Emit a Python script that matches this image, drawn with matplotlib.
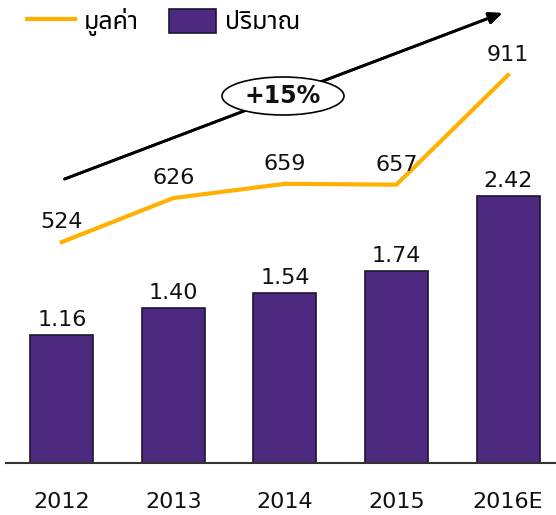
import matplotlib.pyplot as plt
from matplotlib.lines import Line2D
from matplotlib.patches import Patch, Ellipse

years = ["2012", "2013", "2014", "2015", "2016E"]
volume = [1.16, 1.40, 1.54, 1.74, 2.42]
value = [524, 626, 659, 657, 911]
volume_labels = ["1.16", "1.40", "1.54", "1.74", "2.42"]
value_labels = ["524", "626", "659", "657", "911"]
legend_labels = ["มูลค่า", "ปริมาณ"]
growth_label = "+15%"

purple = "#4D2A7F"
orange = "#FFB000"

plt.rcParams["font.family"] = ["DejaVu Sans"]
thai_fonts = ["Noto Sans Thai", "Tahoma", "DejaVu Sans"]

fig = plt.figure(figsize=(5.56, 5.15), dpi=100)
ax = fig.add_axes([6 / 556, 52 / 515, 550 / 556, 463 / 515])
x = list(range(len(years)))

ax.bar(x, volume, width=0.565, color=purple, edgecolor="#1E1530", linewidth=1.2, zorder=2)
for xi, v, lab in zip(x, volume, volume_labels):
    ax.annotate(lab, (xi, v), xytext=(0, 9), textcoords="offset pixels",
                ha="center", va="baseline", fontsize=16, color="#111111")

ax.set_xlim(-0.5, 4.43)
ax.set_ylim(0, 4.19)
ax.set_xticks(x)
ax.set_xticklabels(years, fontsize=16, color="#111111")
ax.tick_params(axis="x", length=0, pad=21)
ax.set_yticks([])
for s in ["top", "left", "right"]:
    ax.spines[s].set_visible(False)
ax.spines["bottom"].set_color("#333333")
ax.spines["bottom"].set_linewidth(1.5)

ax2 = ax.twinx()
ax2.plot(x, value, color=orange, linewidth=3, zorder=3)
for xi, v, lab in zip(x, value, value_labels):
    ax2.annotate(lab, (xi, v), xytext=(0, 14), textcoords="offset pixels",
                 ha="center", va="baseline", fontsize=16, color="#111111")
ax2.set_ylim(12, 1085)
ax2.set_yticks([])
ax2.axis("off")

# growth arrow and label
fig.add_artist(plt.annotate("", xy=(505, 503), xytext=(62, 335),
                            xycoords="figure pixels", textcoords="figure pixels",
                            arrowprops=dict(arrowstyle="-|>,head_length=0.8,head_width=0.35",
                                            color="black", lw=2)))
ell = Ellipse((2.83, 4.19), 1.22, 0.38, transform=fig.dpi_scale_trans,
              facecolor="white", edgecolor="black", linewidth=1.2, zorder=5)
fig.add_artist(ell)
fig.text(283 / 556, 419 / 515, growth_label, ha="center", va="center",
         fontsize=17, fontweight="bold", color="#111111", zorder=6)

handles = [Line2D([], [], color=orange, linewidth=3),
           Patch(facecolor=purple, edgecolor="#1E1530", linewidth=1.2)]
fig.legend(handles, legend_labels, ncol=2, loc="upper left",
           bbox_to_anchor=(27 / 556, 1 - 8 / 515), frameon=False,
           borderpad=0, borderaxespad=0,
           prop={"family": thai_fonts, "size": 18},
           handlelength=1.9, handleheight=1.1, handletextpad=0.36,
           columnspacing=1.2)

fig.savefig("out.png", dpi=100)
